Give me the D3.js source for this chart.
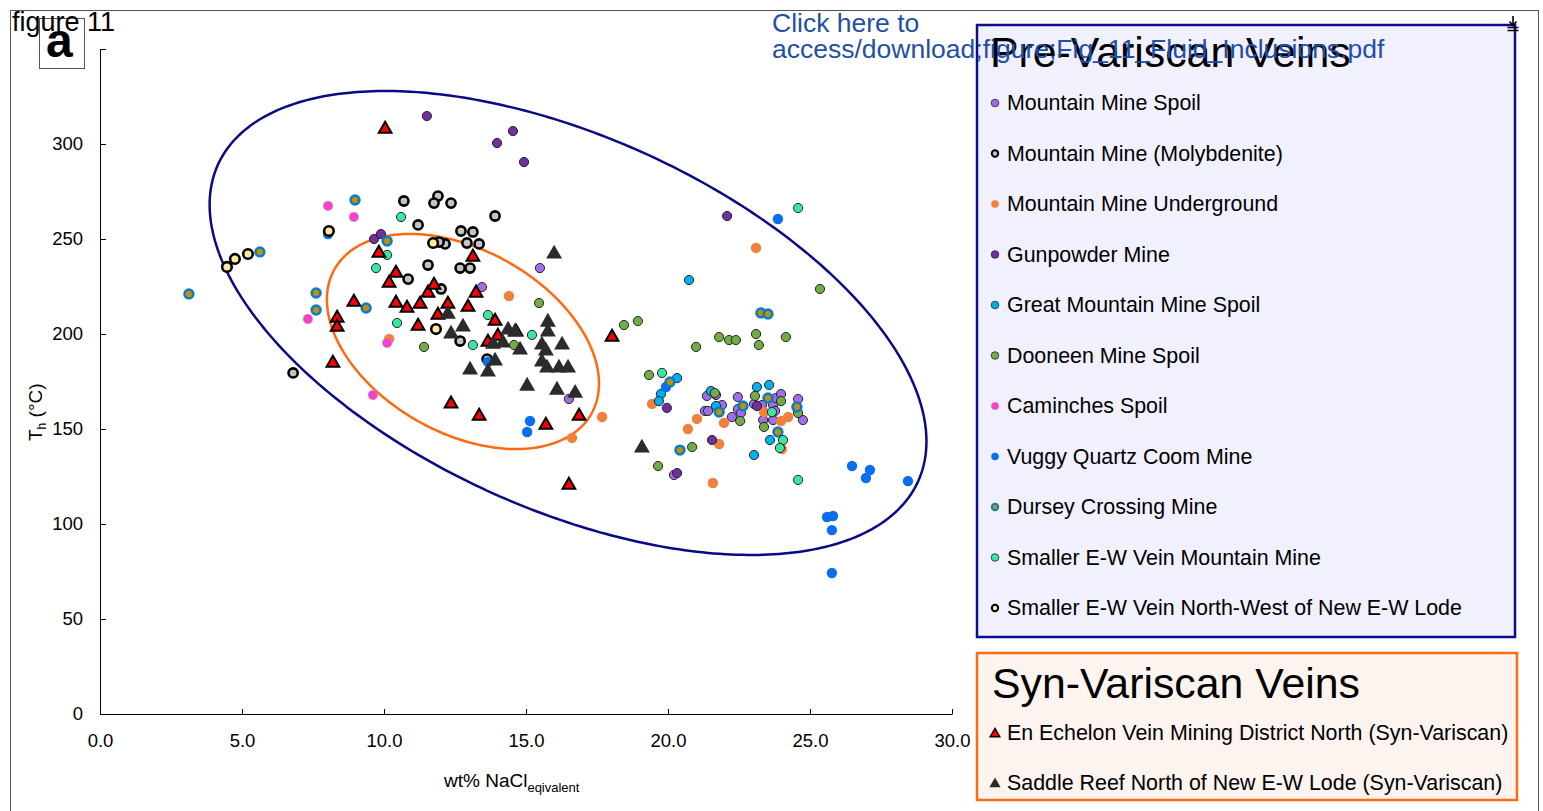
<!DOCTYPE html>
<html>
<head>
<meta charset="utf-8">
<script src="https://cdn.jsdelivr.net/npm/d3@7"></script>
<style>
	body { margin: 0; background: #ffffff; }
	svg { font-family: "Liberation Sans", Arial, sans-serif; }
</style>
</head>
<body>
<svg id="svgarea" width="1543" height="811"></svg>
<script>
// ticks
const xTicks		= [0, 5, 10, 15, 20, 25, 30];
const xTickLabels	= ['0.0', '5.0', '10.0', '15.0', '20.0', '25.0', '30.0'];
const yTicks		= [0, 50, 100, 150, 200, 250, 300, 350];
const yTickLabels	= ['0', '50', '100', '150', '200', '250', '300', ''];

// legend names
const preNames = [
	'Mountain Mine Spoil',
	'Mountain Mine (Molybdenite)',
	'Mountain Mine Underground',
	'Gunpowder Mine',
	'Great Mountain Mine Spoil',
	'Dooneen Mine Spoil',
	'Caminches Spoil',
	'Vuggy Quartz Coom Mine',
	'Dursey Crossing Mine',
	'Smaller E-W Vein Mountain Mine',
	'Smaller E-W Vein North-West of New E-W Lode'
];
const synNames = [
	'En Echelon Vein Mining District North (Syn-Variscan)',
	'Saddle Reef North of New E-W Lode (Syn-Variscan)'
];

// series values: [wt% NaCl eq, Th °C]
const mountainMineSpoil = [[15.49,234.7],[13.45,224.7],[16.51,165.8],[21.37,167.4],[21.69,167.9],[21.30,159.5],[21.41,159.5],[21.90,162.6],[22.25,156.3],[22.46,166.8],[22.46,160.5],[22.57,158.4],[23.03,163.2],[23.31,162.6],[23.70,162.6],[23.80,166.3],[23.98,168.4],[23.77,159.5],[23.35,154.7],[23.70,154.7],[24.58,165.8],[24.75,154.7],[20.21,125.8]];
const molybdenite = [[10.70,270.0],[11.90,272.6],[11.76,268.9],[12.36,268.9],[11.20,257.4],[13.91,262.1],[12.71,254.2],[13.13,253.7],[12.92,247.9],[13.35,247.4],[12.15,247.4],[11.94,248.4],[11.55,236.3],[12.68,234.7],[13.03,234.7],[10.85,228.9],[12.01,223.7],[12.68,196.3],[13.63,186.8],[6.80,179.5]];
const underground = [[14.40,220.0],[10.18,197.4],[23.10,245.3],[19.44,163.2],[17.68,156.3],[21.02,155.3],[20.70,150.0],[21.97,153.2],[21.80,142.1],[21.58,121.6],[23.38,158.9],[23.98,154.2],[24.23,156.3],[24.01,139.5],[16.62,145.3]];
const gunpowder = [[11.51,314.7],[14.54,306.8],[13.98,300.5],[14.93,290.5],[22.08,262.1],[9.65,250.0],[9.89,252.6],[19.96,161.1],[21.55,144.2],[20.32,126.8],[23.13,162.1]];
const greatMountain = [[20.74,228.4],[20.32,176.8],[19.75,168.4],[19.68,164.7],[23.13,172.1],[23.56,173.2],[21.51,170.0],[21.69,162.1],[23.59,144.2],[23.03,136.3]];
const dooneen = [[11.41,193.2],[15.46,216.3],[14.58,194.2],[18.45,204.7],[18.94,206.8],[25.35,223.7],[21.80,198.4],[22.15,196.8],[22.39,196.8],[23.10,200.0],[23.20,194.2],[24.15,198.4],[20.99,193.2],[19.33,178.4],[21.65,168.9],[22.54,154.2],[23.06,167.4],[23.98,164.7],[24.58,158.4],[23.38,151.1],[20.85,140.5],[19.65,130.5]];
const caminches = [[8.03,267.4],[8.94,261.6],[7.32,207.9],[10.11,195.3],[9.61,167.9]];
const vuggy = [[23.87,260.5],[19.93,172.1],[26.48,130.5],[27.11,128.4],[26.97,124.2],[28.45,122.6],[25.60,103.7],[25.81,104.2],[25.77,96.8],[25.77,74.2],[15.14,154.2],[15.04,148.4],[13.66,185.3],[8.03,252.6]];
const dursey = [[3.13,221.1],[5.63,243.2],[8.98,270.5],[7.61,221.6],[7.61,212.6],[9.37,213.7],[10.11,248.9],[23.27,211.1],[23.52,210.5],[20.07,174.7],[21.80,158.9],[22.64,162.1],[23.52,166.3],[24.54,161.6],[23.87,148.4],[20.42,138.9]];
const smallerMM = [[9.72,234.7],[10.11,241.6],[10.46,205.8],[10.60,261.6],[13.66,210.0],[15.21,199.5],[13.13,194.2],[24.58,266.3],[19.79,179.5],[23.66,158.9],[24.05,144.2],[23.94,140.0],[24.58,123.2]];
const smallerNW = [[4.47,235.3],[4.75,239.5],[5.21,242.1],[8.06,254.2],[11.73,247.9],[11.83,202.6]];
const enEchelon = [[10.04,307.9],[9.82,242.6],[10.42,232.1],[10.18,226.8],[8.94,216.8],[8.35,208.4],[8.35,203.7],[8.20,184.7],[10.42,216.3],[10.81,213.7],[11.27,215.8],[11.55,221.6],[11.76,225.8],[11.20,204.2],[11.90,210.0],[12.25,215.8],[12.96,214.2],[13.24,221.6],[13.13,240.5],[13.91,206.8],[14.65,201.1],[13.66,195.8],[14.01,198.9],[18.03,198.4],[12.36,163.2],[13.35,156.8],[15.70,152.1],[16.87,156.8],[16.51,120.5]];
const saddleReef = [[15.99,242.1],[12.25,210.5],[12.78,203.7],[12.36,200.0],[14.37,202.1],[13.84,194.7],[14.19,195.3],[14.79,191.6],[13.91,185.8],[13.03,181.1],[13.66,180.0],[15.77,206.3],[15.77,201.1],[15.56,194.2],[16.27,194.2],[15.70,191.1],[15.56,185.3],[15.74,182.1],[16.16,182.1],[16.48,182.1],[15.04,172.6],[16.09,170.5],[16.73,168.9],[19.08,140.0],[14.61,201.1]];

// ellipses in data units: centre, half extents, correlation
const ellipseNavy	= [16.48, 205.8, 12.62, 122.1, -0.51];
const ellipseOrange	= [12.78, 196.05, 4.79, 56.6, -0.39];

// circle series, in legend (and draw) order
const circleSeries = [mountainMineSpoil, molybdenite, underground, gunpowder, greatMountain, dooneen, caminches, vuggy, dursey, smallerMM, smallerNW];
const circleStyle = [
	{fill: '#a06ee8', stroke: '#222', sw: 1, r: 4.6},
	{fill: '#c4c4c4', stroke: '#000', sw: 2.6, r: 4.6},
	{fill: '#f0813c', stroke: 'none', sw: 0, r: 5.2},
	{fill: '#7030a0', stroke: '#222', sw: 1, r: 4.6},
	{fill: '#00b0f0', stroke: '#222', sw: 1, r: 4.6},
	{fill: '#70ad47', stroke: '#222', sw: 1, r: 4.6},
	{fill: '#f840cc', stroke: '#aaa', sw: 0.6, r: 4.8},
	{fill: '#0a6ef0', stroke: 'none', sw: 0, r: 5.2},
	{fill: '#c09000', stroke: '#0a7ccc', sw: 2.6, r: 4.4},
	{fill: '#3ce6a2', stroke: '#222', sw: 1, r: 4.6},
	{fill: '#ffe8a0', stroke: '#000', sw: 2.6, r: 4.8}
];
const triSeries = [enEchelon, saddleReef];
const triStyle = [
	{fill: '#ff0000', stroke: '#000', sw: 2, size: 70},
	{fill: '#2b2b2b', stroke: 'none', sw: 0, size: 110}
];

var svg = d3.select('#svgarea');
var x = d3.scaleLinear().domain([0, 30]).range([100, 952]);
var y = d3.scaleLinear().domain([0, 350]).range([714, 49]);

/**
 * Frame, panel letter and header text
 */
function drawFrame(){
	svg.append('rect').attr('x', 10.5).attr('y', 10.5).attr('width', 1528).attr('height', 820)
		.attr('fill', 'none').attr('stroke', '#555').attr('stroke-width', 1);
	svg.append('rect').attr('x', 39.5).attr('y', 18.5).attr('width', 45).attr('height', 50)
		.attr('fill', 'none').attr('stroke', '#555').attr('stroke-width', 1);
	svg.append('text').attr('x', 46).attr('y', 57).attr('font-size', 48).attr('font-weight', 'bold').text('a');
	svg.append('text').attr('x', 12).attr('y', 31).attr('font-size', 27).text('figure 11');
}

/**
 * Small download glyph, top right (drawn last, over the legend border)
 */
function drawGlyph(){
	var g = svg.append('g').attr('transform', 'translate(1513,16)').attr('stroke', '#000').attr('stroke-width', 1.6).attr('fill', 'none');
	g.append('path').attr('d', 'M0,0 V9 M-3.5,5.5 L0,9.5 L3.5,5.5 M-5.5,11.5 H5.5 M-5.5,14.5 H5.5');
}

/**
 * Axes with inward ticks
 */
function drawAxes(){
	var gx = svg.append('g').attr('transform', 'translate(0,714)')
		.call(d3.axisBottom(x).tickValues(xTicks).tickSize(-5).tickSizeOuter(0).tickPadding(20)
			.tickFormat(function(d, i){ return xTickLabels[i]; }));
	var gy = svg.append('g').attr('transform', 'translate(100,0)')
		.call(d3.axisLeft(y).tickValues(yTicks).tickSize(-6).tickSizeOuter(0).tickPadding(17)
			.tickFormat(function(d, i){ return yTickLabels[i]; }));
	[gx, gy].forEach(function(g){
		g.selectAll('text').attr('font-size', 18.5).attr('fill', '#000').attr('font-family', '"Liberation Sans", Arial, sans-serif');
		g.selectAll('line, path').attr('stroke', '#000');
	});

	var xl = svg.append('text').attr('x', 444).attr('y', 787).attr('font-size', 19);
	xl.append('tspan').text('wt% NaCl');
	xl.append('tspan').attr('font-size', 13).attr('dy', 5).text('eqivalent');

	var yl = svg.append('text').attr('transform', 'translate(42,441) rotate(-90)').attr('font-size', 19);
	yl.append('tspan').text('T');
	yl.append('tspan').attr('font-size', 12).attr('dy', 4).text('h');
	yl.append('tspan').attr('dy', -4).text(' (°C)');
}

/**
 * Ellipse outline built in data space
 * @param e		(array) [cx, cy, hx, hy, rho]
 * @param color	(string) stroke
 */
function drawEllipse(e, color){
	var pts = d3.range(0, 2 * Math.PI + 0.01, Math.PI / 180).map(function(t){
		return [e[0] + e[2] * Math.cos(t), e[1] + e[3] * (e[4] * Math.cos(t) + Math.sqrt(1 - e[4] * e[4]) * Math.sin(t))];
	});
	svg.append('path').datum(pts)
		.attr('d', d3.line().x(function(d){ return x(d[0]); }).y(function(d){ return y(d[1]); }).curve(d3.curveLinearClosed))
		.attr('fill', 'none').attr('stroke', color).attr('stroke-width', 2.5);
}

/**
 * Scatter marks
 */
function drawPoints(){
	circleSeries.forEach(function(data, i){
		var s = circleStyle[i];
		svg.append('g').selectAll('circle').data(data).join('circle')
			.attr('cx', function(d){ return x(d[0]); })
			.attr('cy', function(d){ return y(d[1]); })
			.attr('r', s.r).attr('fill', s.fill).attr('stroke', s.stroke).attr('stroke-width', s.sw);
	});
	triSeries.forEach(function(data, i){
		var s = triStyle[i];
		svg.append('g').selectAll('path').data(data).join('path')
			.attr('d', d3.symbol(d3.symbolTriangle, s.size))
			.attr('transform', function(d){ return 'translate(' + x(d[0]) + ',' + y(d[1]) + ')'; })
			.attr('fill', s.fill).attr('stroke', s.stroke).attr('stroke-width', s.sw).attr('stroke-linejoin', 'miter');
	});
}

/**
 * The two legend boxes and the link text
 */
function drawLegends(){
	svg.append('rect').attr('x', 977).attr('y', 25).attr('width', 538).attr('height', 612)
		.attr('fill', '#f1f1fd').attr('stroke', '#0c0c8e').attr('stroke-width', 2.5);
	svg.append('text').attr('x', 990).attr('y', 67).attr('font-size', 42.8).text('Pre-Variscan Veins');
	preNames.forEach(function(name, i){
		var s = circleStyle[i];
		var yy = 110 + i * 50.5;
		svg.append('circle').attr('cx', 995).attr('cy', yy - 7).attr('r', s.sw > 2 ? 3.2 : 3.8)
			.attr('fill', s.fill).attr('stroke', s.stroke).attr('stroke-width', s.sw > 2 ? 2 : s.sw * 0.8);
		svg.append('text').attr('x', 1007).attr('y', yy).attr('font-size', 21.4).text(name);
	});

	svg.append('rect').attr('x', 977).attr('y', 653).attr('width', 540).attr('height', 147)
		.attr('fill', '#fdf4ef').attr('stroke', '#ff6a12').attr('stroke-width', 2.5);
	svg.append('text').attr('x', 992).attr('y', 698).attr('font-size', 42.8).text('Syn-Variscan Veins');
	synNames.forEach(function(name, i){
		var s = triStyle[i];
		var yy = 740 + i * 50;
		svg.append('path').attr('d', d3.symbol(d3.symbolTriangle, i === 0 ? 40 : 55))
			.attr('transform', 'translate(995,' + (yy - 6) + ')')
			.attr('fill', s.fill).attr('stroke', s.stroke).attr('stroke-width', s.sw * 0.7);
		svg.append('text').attr('x', 1007).attr('y', yy).attr('font-size', 21.4).text(name);
	});

	// link text, drawn over the legend
	svg.append('text').attr('x', 772).attr('y', 32).attr('font-size', 26.5).attr('fill', '#1f4fa6').text('Click here to');
	svg.append('text').attr('x', 772).attr('y', 58).attr('font-size', 26.5).attr('fill', '#1f4fa6')
		.text('access/download;figure;Fig_11_Fluid_Inclusions.pdf');
}

drawFrame();
drawAxes();
drawEllipse(ellipseNavy, '#0a0a85');
drawEllipse(ellipseOrange, '#ff6a10');
drawPoints();
drawLegends();
drawGlyph();
</script>
</body>
</html>
